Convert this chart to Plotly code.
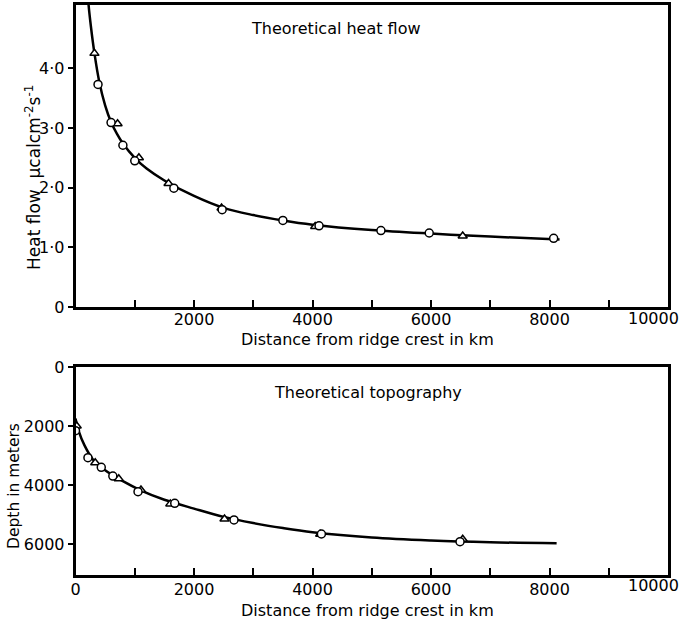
import plotly.graph_objects as go

# ---- Heat flow panel data ----
hf_curve_x = [190, 220, 260, 320, 400, 500, 600, 700, 800, 1000, 1200, 1500, 2000, 2500, 3000, 3500, 4000, 5000, 6000, 7000, 8170]
hf_curve_y = [5.5, 5.07, 4.7, 4.25, 3.78, 3.38, 3.1, 2.9, 2.74, 2.5, 2.32, 2.12, 1.86, 1.66, 1.54, 1.45, 1.38, 1.29, 1.23, 1.18, 1.13]
hf_circ_x = [380, 600, 800, 1000, 1660, 2475, 3500, 4110, 5155, 5970, 8070]
hf_circ_y = [3.73, 3.09, 2.71, 2.45, 1.99, 1.63, 1.45, 1.36, 1.28, 1.24, 1.15]
hf_tri_x = [320, 710, 1070, 1570, 2465, 4045, 6535]
hf_tri_y = [4.25, 3.07, 2.50, 2.07, 1.66, 1.35, 1.19]

# ---- Topography panel data ----
tp_curve_x = [0, 50, 150, 300, 500, 800, 1100, 1500, 2000, 2500, 3000, 3500, 4000, 5000, 6000, 7000, 8120]
tp_curve_y = [1750, 2150, 2650, 3150, 3500, 3870, 4180, 4500, 4800, 5080, 5290, 5460, 5600, 5780, 5880, 5940, 5975]
tp_circ_x = [0, 210, 435, 630, 1055, 1675, 2675, 4150, 6490]
tp_circ_y = [2160, 3075, 3400, 3695, 4225, 4620, 5185, 5660, 5920]
tp_tri_x = [20, 333, 730, 1105, 1600, 2515, 4130, 6535]
tp_tri_y = [2000, 3245, 3785, 4170, 4640, 5150, 5670, 5840]

# ---- tick labels ----
x_tickvals = [0, 1000, 2000, 3000, 4000, 5000, 6000, 7000, 8000, 9000, 10000]
x_ticktext_top = ["", "", "2000", "", "4000", "", "6000", "", "8000", "", ""]
x_ticktext_bot = ["0", "", "2000", "", "4000", "", "6000", "", "8000", "", ""]
x_last_label = "10000"
hf_tickvals = [0, 1, 2, 3, 4]
hf_ticktext = ["0", "1·0", "2·0", "3·0", "4·0"]
tp_tickvals = [0, 2000, 4000, 6000]
tp_ticktext = ["0", "2000", "4000", "6000"]

W, H = 688, 622
FONT = "DejaVu Sans"

def px(x):
    return x / W

def py(y):
    return 1 - y / H

fig = go.Figure()

line_style = dict(color="black", width=2.5)
circ_marker = dict(symbol="circle", size=8, color="white", line=dict(color="black", width=1.5))
tri_marker = dict(symbol="triangle-up", size=8, color="white", line=dict(color="black", width=1.5))

fig.add_trace(go.Scatter(x=hf_curve_x, y=hf_curve_y, mode="lines", line=dict(shape="spline", **line_style),
                         xaxis="x", yaxis="y", showlegend=False, hoverinfo="skip"))
fig.add_trace(go.Scatter(x=hf_tri_x, y=hf_tri_y, mode="markers", marker=tri_marker, xaxis="x", yaxis="y", showlegend=False))
fig.add_trace(go.Scatter(x=hf_circ_x, y=hf_circ_y, mode="markers", marker=circ_marker, xaxis="x", yaxis="y", showlegend=False))

fig.add_trace(go.Scatter(x=tp_curve_x, y=tp_curve_y, mode="lines", line=dict(shape="spline", **line_style),
                         xaxis="x2", yaxis="y2", showlegend=False, hoverinfo="skip"))
fig.add_trace(go.Scatter(x=tp_tri_x, y=tp_tri_y, mode="markers", marker=tri_marker, xaxis="x2", yaxis="y2", showlegend=False))
fig.add_trace(go.Scatter(x=tp_circ_x, y=tp_circ_y, mode="markers", marker=circ_marker, xaxis="x2", yaxis="y2", showlegend=False))

xdom = [px(75.5), px(668)]
tickfont = dict(family=FONT, size=16, color="black")
axis_common = dict(showline=True, linecolor="black", linewidth=2.5, mirror=True, showgrid=False, zeroline=False,
                   tickfont=tickfont, tickcolor="black", tickwidth=1.5, automargin=False)

fig.update_layout(
    width=W, height=H,
    margin=dict(l=0, r=0, t=0, b=0, autoexpand=False),
    paper_bgcolor="white", plot_bgcolor="white",
    xaxis=dict(domain=xdom, range=[0, 10000], anchor="y", tickmode="array", tickvals=x_tickvals,
               ticktext=x_ticktext_top, ticks="inside", ticklen=7, ticklabelstandoff=-4, **axis_common),
    yaxis=dict(domain=[py(307), py(5)], range=[0, 5.06], anchor="x", tickmode="array", tickvals=hf_tickvals,
               ticktext=hf_ticktext, ticks="outside", ticklen=5, **axis_common),
    xaxis2=dict(domain=xdom, range=[0, 10000], anchor="y2", tickmode="array", tickvals=x_tickvals,
                ticktext=x_ticktext_bot, ticks="inside", ticklen=7, ticklabelstandoff=-2, **axis_common),
    yaxis2=dict(domain=[py(575), py(367)], range=[7050, 0], anchor="x2", tickmode="array", tickvals=tp_tickvals,
                ticktext=tp_ticktext, ticks="outside", ticklen=5, **axis_common),
)

def ann(text, x, y, size, angle=0, xanchor="center"):
    fig.add_annotation(xref="paper", yref="paper", showarrow=False, xanchor=xanchor, yanchor="middle",
                       text=text, x=px(x), y=py(y), textangle=angle,
                       font=dict(family=FONT, size=size, color="black"))

ann("Theoretical heat flow", 336, 29, 16)
ann("Theoretical topography", 368, 392, 16)
ann("Distance from ridge crest in km", 368, 339, 16)
ann("Distance from ridge crest in km", 368, 610, 16)
ann("Heat flow  μcalcm<sup>-2</sup>s<sup>-1</sup>", 33, 178, 17, -90)
ann("Depth in meters", 14, 486, 15.5, -90)
# last x tick label (pulled left of the frame edge, as in the original)
ann(x_last_label, 681, 318, 16, xanchor="right")
ann(x_last_label, 681, 585, 16, xanchor="right")

fig.write_html("out.html", config={"displayModeBar": False},
               post_script="document.body.style.margin='0';document.body.style.padding='0';document.body.style.overflow='hidden';")
